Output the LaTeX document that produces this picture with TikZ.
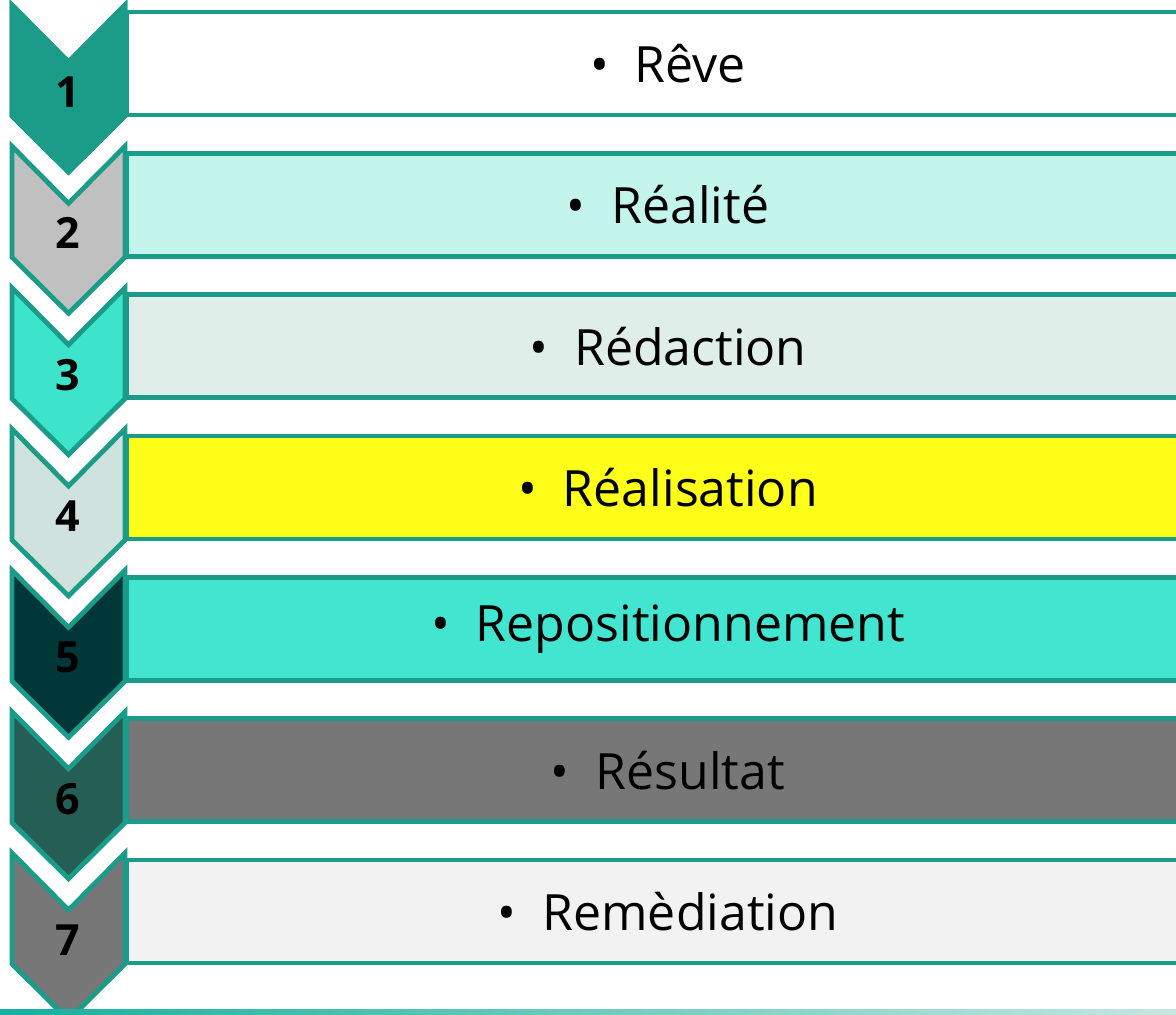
\documentclass[tikz,border=0pt]{standalone}
\usepackage{fontspec}
\setmainfont{Open Sans}
\usetikzlibrary{positioning}

\definecolor{tealline}{HTML}{1A9C88}
\definecolor{barB}{HTML}{C3F5EC}
\definecolor{barC}{HTML}{E0EEEA}
\definecolor{barD}{HTML}{FFFF1A}
\definecolor{barE}{HTML}{42E5D0}
\definecolor{barF}{HTML}{777777}
\definecolor{barG}{HTML}{F2F2F2}

\begin{document}
\begin{tikzpicture}
	% Styles
	[
	x=0.5pt, y=-0.5pt,
	bar/.style={draw=tealline,line width=2.4pt,minimum width=541pt,minimum height=51.5pt,inner sep=0pt,font=\fontsize{25}{30}\selectfont},
	chev/.style={draw=tealline,line width=2.4pt,line join=miter},
	num/.style={font=\fontsize{21.5}{24}\selectfont\bfseries,inner sep=0pt},
	]
	\useasboundingbox (0,0) rectangle (1176,1015);
	\clip (0,0) rectangle (1176,1015);

	% Bars
	\node at (668,63.5)	(b1)	[bar,fill=white] {•\hspace{13pt}Rêve};
	\node at (668,204.8)	(b2)	[bar,fill=barB] {•\hspace{13pt}Réalité};
	\node at (668,346.2)	(b3)	[bar,fill=barC] {•\hspace{13pt}Rédaction};
	\node at (668,487.5)	(b4)	[bar,fill=barD] {•\hspace{13pt}Réalisation};
	\node at (668,628.8)	(b5)	[bar,fill=barE] {•\hspace{13pt}Repositionnement};
	\node at (668,770.2)	(b6)	[bar,fill=barF] {•\hspace{13pt}Résultat};
	\node at (668,911.5)	(b7)	[bar,fill=barG] {•\hspace{13pt}Remèdiation};

	% Chevrons
	\foreach \t/\c in {5/1A9C88,146.3/C0C0C0,287.7/3EE3CC,429/D0E2DE,570.3/02373A,711.7/245E55,853/777777}{
		\definecolor{chevfill}{HTML}{\c}
		\filldraw[chev,fill=chevfill] (12,\t) -- (68.5,\t+57) -- (125,\t) -- (125,\t+111) -- (68.5,\t+167) -- (12,\t+111) -- cycle;
	}
	\filldraw[chev,draw=tealline,fill=tealline] (12,5) -- (68.5,62) -- (125,5) -- (125,116) -- (68.5,172) -- (12,116) -- cycle;

	% Numbers
	\node at (68,92)	(n1)	[num] {1};
	\node at (68,233.3)	(n2)	[num] {2};
	\node at (68,374.7)	(n3)	[num] {3};
	\node at (68,516)	(n4)	[num] {4};
	\node at (68,657.3)	(n5)	[num] {5};
	\node at (68,798.7)	(n6)	[num] {6};
	\node at (68,940)	(n7)	[num] {7};

	% Bottom line
	\shade[left color=tealline!80!cyan,right color=tealline!25] (0,1009) rectangle (1176,1015);

\end{tikzpicture}
\end{document}
